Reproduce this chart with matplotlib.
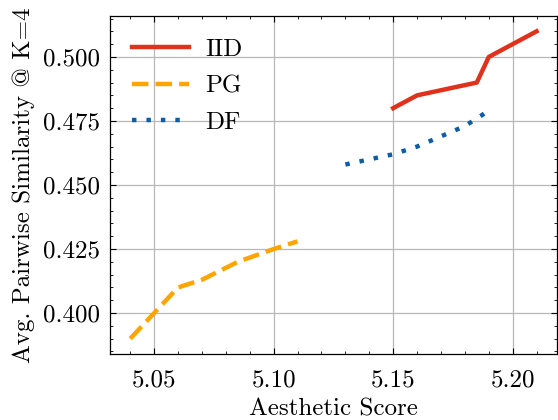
import matplotlib
matplotlib.use("Agg")
import matplotlib.pyplot as plt
from matplotlib.ticker import MultipleLocator, FormatStrFormatter

# Aesthetic score vs. average pairwise similarity for three samplers
iid_x = [5.15, 5.16, 5.17, 5.185, 5.19, 5.21]
iid_y = [0.480, 0.485, 0.487, 0.490, 0.500, 0.510]

pg_x = [5.04, 5.05, 5.06, 5.07, 5.085, 5.10, 5.11]
pg_y = [0.390, 0.400, 0.410, 0.413, 0.420, 0.425, 0.428]

df_x = [5.13, 5.14, 5.15, 5.16, 5.17, 5.18, 5.19]
df_y = [0.458, 0.460, 0.462, 0.465, 0.469, 0.473, 0.479]

plt.rcParams.update({
    "font.family": ["cmr10", "DejaVu Serif"],
    "mathtext.fontset": "cm",
    "axes.formatter.use_mathtext": True,
    "font.size": 18,
    "xtick.direction": "in",
    "ytick.direction": "in",
    "xtick.top": True,
    "ytick.right": True,
    "xtick.minor.visible": True,
    "ytick.minor.visible": True,
    "xtick.major.size": 4,
    "ytick.major.size": 4,
    "xtick.minor.size": 2.2,
    "ytick.minor.size": 2.2,
    "axes.linewidth": 0.9,
})

fig = plt.figure(figsize=(5.58, 4.20), dpi=100)
ax = fig.add_axes([0.197, 0.157, 0.801, 0.805])

ax.grid(True, color="#b8b8b8", linewidth=0.9)
ax.set_axisbelow(True)

ax.plot(iid_x, iid_y, color="#E0311C", linewidth=3.2, linestyle="-", label="IID")
ax.plot(pg_x, pg_y, color="#FFA500", linewidth=3.2, linestyle=(0, (3.7, 1.6)), label="PG")
ax.plot(df_x, df_y, color="#0C5DA5", linewidth=3.2, linestyle=(0, (1, 2.25)), label="DF")

ax.xaxis.set_major_locator(MultipleLocator(0.05))
ax.xaxis.set_minor_locator(MultipleLocator(0.01))
ax.yaxis.set_major_locator(MultipleLocator(0.025))
ax.yaxis.set_minor_locator(MultipleLocator(0.005))
ax.xaxis.set_major_formatter(FormatStrFormatter("%.2f"))
ax.yaxis.set_major_formatter(FormatStrFormatter("%.3f"))
ax.tick_params(axis="x", which="major", pad=11)
ax.tick_params(axis="y", which="major", pad=7)

ax.set_xlabel("Aesthetic Score", labelpad=5)
ax.set_ylabel("Avg. Pairwise Similarity @ K=4", labelpad=6)

ax.legend(loc="upper left", frameon=False, handlelength=2.25,
          handletextpad=0.65, labelspacing=0.56, borderaxespad=0.5)

fig.savefig("out.png", dpi=100)
